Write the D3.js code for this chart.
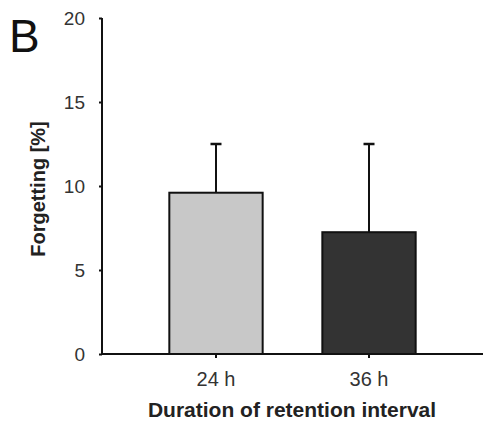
<!DOCTYPE html>
<html>
<head>
<meta charset="utf-8">
<script src="https://cdn.jsdelivr.net/npm/d3@7"></script>
<style>
  html, body { margin: 0; padding: 0; background: #fff; }
  svg { display: block; }
</style>
</head>
<body>
<svg id="chart" width="483" height="422"></svg>
<script>
const categories = ["24 h", "36 h"];
const means = [9.6, 7.25];
const errors = [2.9, 5.25];
const barColors = ["#c8c8c8", "#333333"];
const yTicks = [0, 5, 10, 15, 20];

const svg = d3.select("#chart");
const mLeft = 102, mRight = 483, mTop = 18, mBottom = 354;

const x = d3.scaleBand().domain(categories).range([mLeft, mRight])
  .paddingInner(0.39).paddingOuter(0.44);
const y = d3.scaleLinear().domain([0, 20]).range([mBottom, mTop]);

// bars
svg.selectAll("rect.bar").data(categories).enter().append("rect")
  .attr("class", "bar")
  .attr("x", d => x(d))
  .attr("y", (d, i) => y(means[i]))
  .attr("width", x.bandwidth())
  .attr("height", (d, i) => y(0) - y(means[i]))
  .attr("fill", (d, i) => barColors[i])
  .attr("stroke", "#111")
  .attr("stroke-width", 2);

// error bars (upper only)
const eb = svg.selectAll("g.err").data(categories).enter().append("g").attr("class", "err");
eb.append("line")
  .attr("x1", d => x(d) + x.bandwidth() / 2)
  .attr("x2", d => x(d) + x.bandwidth() / 2)
  .attr("y1", (d, i) => y(means[i]))
  .attr("y2", (d, i) => y(means[i] + errors[i]))
  .attr("stroke", "#111").attr("stroke-width", 2);
eb.append("line")
  .attr("x1", d => x(d) + x.bandwidth() / 2 - 5.5)
  .attr("x2", d => x(d) + x.bandwidth() / 2 + 5.5)
  .attr("y1", (d, i) => y(means[i] + errors[i]))
  .attr("y2", (d, i) => y(means[i] + errors[i]))
  .attr("stroke", "#111").attr("stroke-width", 2.5);

// y axis
const yAxis = svg.append("g").attr("transform", `translate(${mLeft},0)`)
  .call(d3.axisLeft(y).tickValues(yTicks).tickSize(3).tickPadding(14));
yAxis.select(".domain").attr("stroke", "#111").attr("stroke-width", 2)
  .attr("d", `M0,${mTop}V${mBottom}`);
yAxis.selectAll(".tick line").attr("stroke", "#111").attr("stroke-width", 2);
yAxis.selectAll(".tick text").attr("font-family", "Liberation Sans, Arial, sans-serif")
  .attr("font-size", 19).attr("fill", "#333");

// x axis
const xAxis = svg.append("g").attr("transform", `translate(0,${mBottom})`)
  .call(d3.axisBottom(x).tickSize(4).tickPadding(14));
xAxis.select(".domain").attr("stroke", "#111").attr("stroke-width", 2)
  .attr("d", `M${mLeft - 1},0H${mRight}`);
xAxis.selectAll(".tick line").attr("stroke", "#111").attr("stroke-width", 2);
xAxis.selectAll(".tick text").attr("font-family", "Liberation Sans, Arial, sans-serif")
  .attr("font-size", 20).attr("fill", "#333");

// axis titles
svg.append("text")
  .attr("x", 292).attr("y", 417)
  .attr("text-anchor", "middle")
  .attr("font-family", "Liberation Sans, Arial, sans-serif")
  .attr("font-weight", "bold").attr("font-size", 21).attr("fill", "#222")
  .text("Duration of retention interval");

svg.append("text")
  .attr("transform", "translate(45,189) rotate(-90)")
  .attr("text-anchor", "middle")
  .attr("font-family", "Liberation Sans, Arial, sans-serif")
  .attr("font-weight", "bold").attr("font-size", 20).attr("fill", "#222")
  .text("Forgetting [%]");

// panel letter
svg.append("text")
  .attr("x", 9).attr("y", 52)
  .attr("font-family", "Liberation Sans, Arial, sans-serif")
  .attr("font-size", 46).attr("fill", "#111")
  .text("B");
</script>
</body>
</html>
